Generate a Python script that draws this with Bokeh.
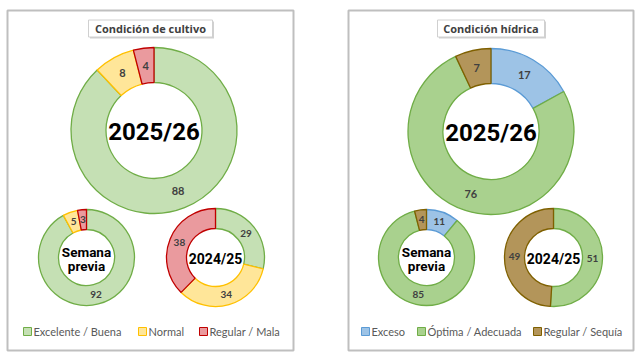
import math
from bokeh.plotting import figure
from bokeh.models import ColumnDataSource, Range1d
from bokeh.core.properties import value
from bokeh.embed import file_html
from bokeh.resources import INLINE

W, H = 640, 357

# ---- data ----
cultivo_categories = ["Excelente / Buena", "Normal", "Regular / Mala"]
cultivo_2025 = [88, 8, 4]
cultivo_prev = [92, 5, 3]
cultivo_2024 = [29, 34, 38]
cultivo_fill = ["#c5e0b4", "#ffe699", "#ea9a9e"]
cultivo_line = ["#70ad47", "#ffc000", "#c00000"]

hidrica_categories = ["Exceso", "Óptima / Adecuada", "Regular / Sequía"]
hidrica_2025 = [17, 76, 7]
hidrica_prev = [11, 85, 4]
hidrica_2024 = [0, 51, 49]
hidrica_fill = ["#9dc3e6", "#a9d18e", "#b3955a"]
hidrica_line = ["#5b9bd5", "#70ad47", "#7f6000"]

center_labels = ["2025/26", "Semana\nprevia", "2024/25"]
panel_titles = ["Condición de cultivo", "Condición hídrica"]

p = figure(width=W, height=H, x_range=Range1d(0, W), y_range=Range1d(0, H),
           output_backend="svg", toolbar_location=None, min_border=0)
p.axis.visible = False
p.grid.visible = False
p.outline_line_color = None
p.background_fill_color = "white"
p.border_fill_color = "white"

def Y(y):
    return H - y

# panels
for (x0, x1) in [(7, 293), (348, 633)]:
    p.rect(x=[(x0 + x1) / 2], y=[Y(180)], width=[x1 - x0], height=[340],
           fill_color=None, line_color="#bfbfbf", line_width=2)

def donut(vals, fills, lines, cx, cy, ro, ri, fs):
    total = float(sum(vals))
    starts, ends, xs, ys, labs, fc, lc = [], [], [], [], [], [], []
    cum = 0.0
    for v, f, l in zip(vals, fills, lines):
        a = cum / total
        b = (cum + v) / total
        cum += v
        if v == 0:
            continue
        starts.append(math.pi / 2 - 2 * math.pi * b)
        ends.append(math.pi / 2 - 2 * math.pi * a)
        mid = math.pi / 2 - math.pi * (a + b)
        rm = (ro + ri) / 2
        xs.append(cx + rm * math.cos(mid))
        ys.append(Y(cy) + rm * math.sin(mid))
        labs.append(str(v))
        fc.append(f)
        lc.append(l)
    src = ColumnDataSource(dict(x=[cx] * len(starts), y=[Y(cy)] * len(starts),
                                s=starts, e=ends, fc=fc, lc=lc))
    p.annular_wedge(x="x", y="y", inner_radius=ri, outer_radius=ro,
                    start_angle="s", end_angle="e", fill_color="fc",
                    line_color="lc", line_width=1.3, source=src)
    lsrc = ColumnDataSource(dict(x=xs, y=ys, t=labs))
    p.text(x="x", y="y", text="t", source=lsrc, text_align="center",
           text_baseline="middle", text_font=value("Lato"),
           text_font_size=f"{fs}px", text_font_style="bold", text_color="#404040")

def center_text(t, cx, cy, fs, lh):
    lines = t.split("\n")
    n = len(lines)
    for i, ln in enumerate(lines):
        yy = cy + (i - (n - 1) / 2) * lh
        p.text(x=[cx], y=[Y(yy)], text=[ln], text_align="center",
               text_baseline="middle", text_font=value("Roboto"),
               text_font_size=f"{fs}px", text_font_style="bold", text_color="black")

# left panel
donut(cultivo_2025, cultivo_fill, cultivo_line, 153.5, 130, 83, 48, 11)
donut(cultivo_prev, cultivo_fill, cultivo_line, 86, 257, 48, 28, 10)
donut(cultivo_2024, cultivo_fill, cultivo_line, 215, 257, 49, 29, 10)
# right panel
donut(hidrica_2025, hidrica_fill, hidrica_line, 490.5, 131, 83, 48, 11)
donut(hidrica_prev, hidrica_fill, hidrica_line, 426, 257, 48, 28, 10)
donut(hidrica_2024, hidrica_fill, hidrica_line, 553, 257, 49, 29, 10)

center_text(center_labels[0], 153.5, 131, 24, 0)
center_text(center_labels[1], 86, 258, 13.5, 14)
center_text(center_labels[2], 215, 258, 14, 0)
center_text(center_labels[0], 490.5, 132, 24, 0)
center_text(center_labels[1], 426, 258, 13.5, 14)
center_text(center_labels[2], 553, 258, 14, 0)

# title boxes with shadow
for (x0, x1, t) in [(88, 212, panel_titles[0]), (437, 544, panel_titles[1])]:
    cx = (x0 + x1) / 2
    p.rect(x=[cx + 1.5], y=[Y(29.5)], width=[x1 - x0], height=[17],
           fill_color="#9a9a9a", fill_alpha=0.45, line_color=None)
    p.rect(x=[cx], y=[Y(28)], width=[x1 - x0], height=[17],
           fill_color="white", line_color="#d0d0d0", line_width=1)
    p.text(x=[cx], y=[Y(28)], text=[t], text_align="center", text_baseline="middle",
           text_font=value("Open Sans"), text_font_size="11px",
           text_font_style="bold", text_color="#404040")

# legends
def legend(cats, fills, lines, xs_sq, y):
    for c, f, l, xq in zip(cats, fills, lines, xs_sq):
        p.rect(x=[xq + 4], y=[Y(y)], width=[8], height=[8],
               fill_color=f, line_color=l, line_width=1)
        p.text(x=[xq + 10], y=[Y(y)], text=[c], text_align="left",
               text_baseline="middle", text_font=value("Lato"),
               text_font_size="11px", text_color="#595959")

legend(cultivo_categories, cultivo_fill, cultivo_line, [23, 138, 199], 331)
legend(hidrica_categories, hidrica_fill, hidrica_line, [361, 417, 533], 331)

open("out.html", "w").write(file_html(p, INLINE))
